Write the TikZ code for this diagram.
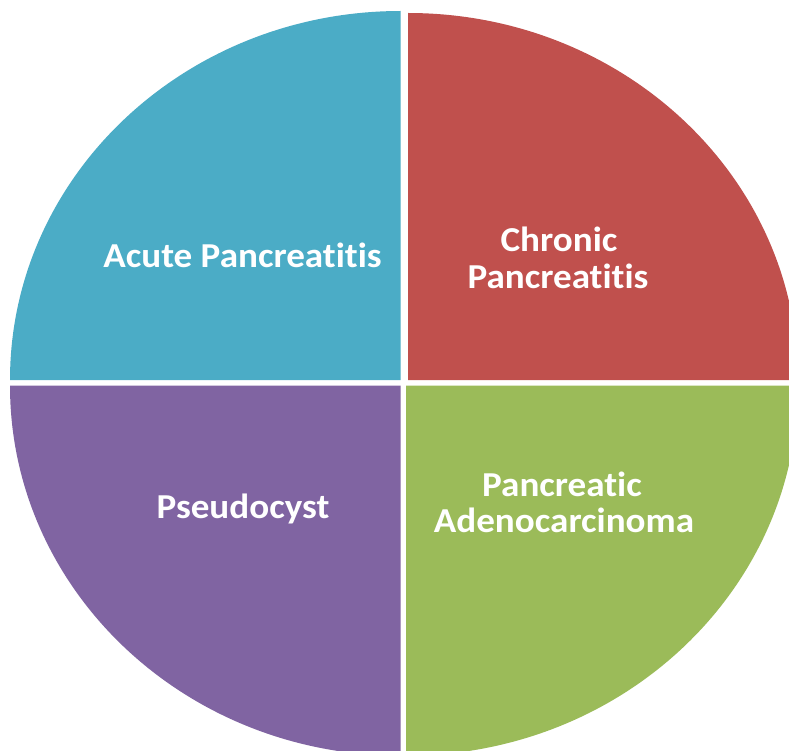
\documentclass[tikz,border=0pt]{standalone}
\usepackage{fontspec}
\setmainfont{Carlito}[Ligatures=CommonOff, FakeStretch=1.06]
\definecolor{qblue}{HTML}{4BACC6}
\definecolor{qred}{HTML}{C0504D}
\definecolor{qgreen}{HTML}{9BBB59}
\definecolor{qpurple}{HTML}{8064A2}
\tikzset{
  lbl/.style={text=white, font=\fontsize{35}{36}\selectfont\bfseries, align=center, inner sep=0pt}
}
\begin{document}
\begin{tikzpicture}[x=1pt,y=1pt]
\useasboundingbox (0,0) rectangle (789,-751);
\clip (0,0) rectangle (789,-751);
\fill[white] (0,0) rectangle (789,-751);
% top-left
\fill[qblue] (400.7,-380) -- (10.0,-380) arc[start angle=180,end angle=90,x radius=390.7,y radius=369] -- cycle;
% top-right
\fill[qred] (408,-380) -- (408,-13) arc[start angle=90,end angle=0,x radius=390,y radius=367] -- cycle;
% bottom-left
\fill[qpurple] (400.5,-385.7) -- (10.0,-385.7) arc[start angle=180,end angle=270,x radius=390.5,y radius=370] -- cycle;
% bottom-right
\fill[qgreen] (406,-385.7) -- (406,-755.7) arc[start angle=270,end angle=360,x radius=392,y radius=370] -- cycle;
\node[lbl, anchor=base] (acute) at (242.5,-267) {Acute Pancreatitis};
\node[lbl, anchor=base] (chronic1) at (559,-251.7) {Chronic};
\node[lbl, anchor=base] (chronic2) at (558,-288) {Pancreatitis};
\node[lbl, anchor=base] (pseudo) at (243,-518) {Pseudocyst};
\node[lbl, anchor=base] (panc1) at (562,-496.7) {Pancreatic};
\node[lbl, anchor=base] (panc2) at (564,-532.7) {Adenocarcinoma};
\end{tikzpicture}
\end{document}
